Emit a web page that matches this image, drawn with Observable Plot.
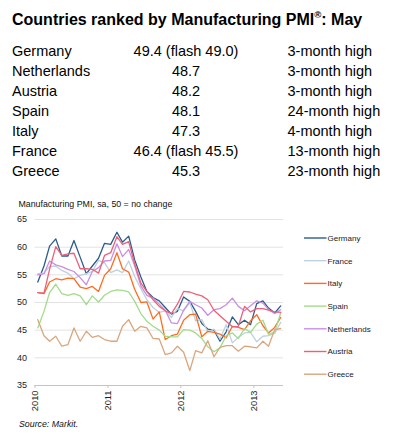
<!DOCTYPE html>
<html>
<head>
<meta charset="utf-8">
<script src="https://cdn.jsdelivr.net/npm/d3@7"></script>
<script src="https://cdn.jsdelivr.net/npm/@observablehq/plot@0.6"></script>
<style>
  html, body { margin: 0; padding: 0; background: #fff; }
  body { width: 397px; height: 440px; position: relative; overflow: hidden;
         font-family: "Liberation Sans", Arial, Helvetica, sans-serif; color: #000; }
  .title { position: absolute; left: 12px; top: 10px; font-size: 16px; font-weight: bold;
           line-height: 20px; white-space: nowrap; }
  .title sup { font-size: 0.6em; font-weight: bold; vertical-align: 0.75em; line-height: 0; }
  .row { position: absolute; left: 0; width: 397px; height: 20px; font-size: 14.5px; line-height: 20px; white-space: nowrap; }
  .row .c { position: absolute; left: 12px; }
  .row .v { position: absolute; left: 116px; width: 140px; text-align: center; }
  .row .s { position: absolute; left: 287.5px; }
  .sub { position: absolute; left: 18.5px; top: 198px; font-size: 8.8px; line-height: 12px; white-space: nowrap; color: #111; }
  .src { position: absolute; left: 19px; top: 418px; font-size: 8.8px; line-height: 12px; font-style: italic; color: #111; white-space: nowrap; }
  #chart { position: absolute; left: 0; top: 190px; }
  #legend { position: absolute; left: 0; top: 0; pointer-events: none; }
</style>
</head>
<body>
<div class="title">Countries ranked by Manufacturing PMI<sup>®</sup>: May</div>
<div id="table"></div>
<div class="sub">Manufacturing PMI, sa, 50 = no change</div>
<div id="chart"></div>
<svg id="legend" width="397" height="440"></svg>
<div class="src">Source: Markit.</div>
<script>
// ---- Ranking table ----
const rankCountries = ["Germany", "Netherlands", "Austria", "Spain", "Italy", "France", "Greece"];
const rankValues = ["49.4 (flash 49.0)", "48.7", "48.2", "48.1", "47.3", "46.4 (flash 45.5)", "45.3"];
const rankNotes = ["3-month high", "3-month high", "3-month high", "24-month high", "4-month high", "13-month high", "23-month high"];

// ---- Chart series (monthly, Jan 2010 – May 2013) ----
const seriesNames = ["Germany", "France", "Italy", "Spain", "Netherlands", "Austria", "Greece"];
const seriesColors = ["#2b5d8b", "#bfd0de", "#ff6c1e", "#a2dc8b", "#cb8ee2", "#ef6078", "#d9a67e"];
const startYear = 2010, startMonth = 0;
const germany = [53.7, 56.6, 60.2, 61.5, 58.4, 58.4, 61.2, 58.2, 55.2, 56.6, 58.0, 60.7,
  60.5, 62.7, 60.9, 62.0, 57.7, 54.6, 52.0, 50.9, 50.3, 49.1, 47.9, 48.4,
  51.0, 50.2, 48.4, 46.2, 45.2, 45.0, 43.0, 44.7, 47.4, 46.0, 46.8, 46.0,
  49.8, 50.3, 49.0, 48.1, 49.4];
const france = [55.2, 55.3, 56.5, 56.6, 55.8, 55.3, 54.3, 54.9, 55.2, 55.6, 57.6, 57.2,
  55.4, 55.9, 55.4, 57.5, 54.7, 52.5, 50.5, 49.1, 48.2, 48.5, 47.3, 48.9,
  48.5, 50.0, 46.7, 46.9, 44.7, 45.2, 43.4, 46.0, 42.7, 43.7, 44.5, 44.6,
  42.9, 43.9, 44.0, 44.4, 46.4];
const italy = [51.8, 51.6, 53.7, 54.3, 54.1, 54.4, 54.3, 52.8, 52.5, 52.9, 52.0, 54.9,
  56.1, 59.0, 56.1, 55.5, 52.4, 50.0, 50.1, 47.0, 48.3, 43.3, 44.0, 44.3,
  46.8, 47.8, 47.9, 43.8, 44.8, 44.6, 44.3, 43.6, 45.7, 45.5, 45.1, 46.7,
  47.8, 45.8, 44.5, 45.5, 47.3];
const spain = [45.4, 48.4, 51.8, 53.3, 51.6, 51.3, 51.6, 51.2, 49.6, 51.2, 50.1, 51.3,
  52.0, 52.3, 52.2, 51.9, 50.2, 48.0, 46.6, 45.7, 45.0, 43.9, 43.8, 43.8,
  45.1, 45.0, 44.5, 43.5, 42.0, 41.1, 41.8, 44.0, 44.5, 43.5, 45.3, 44.6,
  46.1, 46.8, 44.2, 44.7, 48.1];
const netherlands = [55.0, 55.2, 57.5, 56.8, 56.5, 56.0, 55.6, 54.5, 53.2, 55.6, 56.3, 57.5,
  57.6, 60.6, 58.3, 59.6, 56.6, 53.0, 51.3, 50.8, 49.7, 48.6, 46.3, 46.2,
  48.6, 50.2, 49.6, 49.0, 47.7, 48.7, 48.9, 49.6, 50.8, 49.3, 48.5, 49.4,
  50.3, 49.9, 48.7, 48.0, 48.7];
const austria = [51.8, 51.7, 56.0, 60.1, 58.5, 58.8, 58.9, 56.1, 56.1, 56.0, 55.3, 58.5,
  59.0, 61.9, 60.5, 61.0, 57.0, 53.5, 52.0, 50.5, 49.3, 48.5, 48.0, 49.7,
  52.0, 51.9, 51.5, 51.2, 50.5, 48.6, 47.6, 46.6, 45.6, 45.7, 49.3, 48.3,
  48.9, 48.9, 48.6, 48.3, 48.2];
const greece = [46.9, 44.0, 43.0, 43.9, 42.1, 42.4, 45.4, 43.0, 44.8, 43.7, 44.0, 43.3,
  43.0, 43.0, 45.7, 46.9, 44.8, 45.7, 45.4, 43.5, 43.4, 40.6, 40.9, 42.1,
  41.0, 37.7, 41.3, 40.9, 43.1, 40.2, 41.9, 42.2, 42.2, 41.2, 42.1, 42.0,
  41.8, 43.0, 42.1, 45.1, 45.3];
const seriesValues = [germany, france, italy, spain, netherlands, austria, greece];

const yTicks = [35, 40, 45, 50, 55, 60, 65];
const xTickYears = [2010, 2011, 2012, 2013];

// ---- Build table ----
const table = document.getElementById("table");
rankCountries.forEach((c, i) => {
  const r = document.createElement("div");
  r.className = "row";
  r.style.top = (41 + i * 20) + "px";
  r.innerHTML = `<span class="c">${c}</span><span class="v">${rankValues[i]}</span><span class="s">${rankNotes[i]}</span>`;
  table.appendChild(r);
});

// ---- Long data ----
const data = [];
seriesNames.forEach((name, k) => {
  seriesValues[k].forEach((v, i) => {
    data.push({country: name, date: new Date(Date.UTC(startYear, startMonth + i, 15)), value: v});
  });
});

const plot = Plot.plot({
  width: 397,
  height: 240,
  marginTop: 29,
  marginBottom: 45,
  marginLeft: 34.5,
  marginRight: 114,
  style: {fontFamily: "'Liberation Sans', Arial, sans-serif", background: "transparent", color: "#222"},
  x: {type: "utc", domain: [new Date(Date.UTC(2010, 0, 1)), new Date(Date.UTC(2013, 4, 29))]},
  y: {domain: [35, 65]},
  color: {domain: seriesNames, range: seriesColors},
  marks: [
    Plot.gridY(yTicks, {stroke: "#e3e3e3", strokeOpacity: 1}),
    Plot.axisY(yTicks, {tickSize: 0, tickPadding: 8, fontSize: 9, label: null}),
    Plot.ruleY([35], {stroke: "#c4c4c4"}),
    Plot.axisX(xTickYears.map(y => new Date(Date.UTC(y, 0, 1))), {
      tickRotate: -90, tickSize: 3, tickPadding: 2, fontSize: 9.3, stroke: "#c4c4c4",
      tickFormat: d => String(d.getUTCFullYear()), label: null
    }),
    Plot.line(data, {x: "date", y: "value", z: "country", stroke: "country", strokeWidth: 1.3})
  ]
});
document.getElementById("chart").appendChild(plot);

// ---- Legend (colors from the plot's color scale) ----
const color = plot.scale("color");
const lg = d3.select("#legend");
seriesNames.forEach((name, i) => {
  const y = 238 + i * 22.7;
  lg.append("line").attr("x1", 304).attr("x2", 326.5).attr("y1", y).attr("y2", y)
    .attr("stroke", color.apply(name)).attr("stroke-width", 1.4);
  lg.append("text").attr("x", 327.5).attr("y", y).attr("dy", "0.35em")
    .attr("font-size", 8).attr("fill", "#1a1a2a")
    .attr("font-family", "'Liberation Sans', Arial, sans-serif").text(name);
});
</script>
</body>
</html>
